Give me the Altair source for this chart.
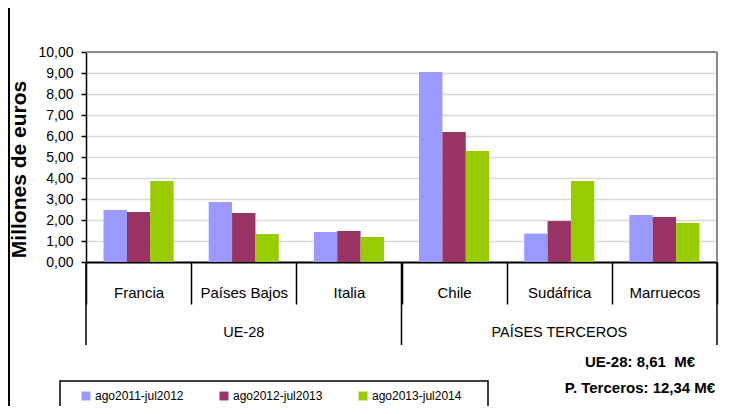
import altair as alt
import pandas as pd

countries = ["Francia", "Países Bajos", "Italia", "Chile", "Sudáfrica", "Marruecos"]
series = ["ago2011-jul2012", "ago2012-jul2013", "ago2013-jul2014"]
v2011 = [2.48, 2.86, 1.43, 9.05, 1.35, 2.24]
v2012 = [2.38, 2.33, 1.48, 6.19, 1.95, 2.14]
v2013 = [3.86, 1.33, 1.19, 5.29, 3.86, 1.86]
colors = ["#9999FF", "#993366", "#99CC00"]
groups = ["UE-28", "PAÍSES TERCEROS"]
group_mid = ["Países Bajos", "Sudáfrica"]
total_ue = "UE-28: 8,61\u00a0 M€"
total_pt = "P. Terceros: 12,34 M€"
y_ticks = [0, 1, 2, 3, 4, 5, 6, 7, 8, 9, 10]

SANS = "Liberation Sans, Arial, sans-serif"

rows = []
for s, vals in zip(series, [v2011, v2012, v2013]):
    for c, v in zip(countries, vals):
        rows.append({"country": c, "series": s, "value": v})
df = pd.DataFrame(rows)

W, H = 631, 210

xscale = alt.Scale(domain=countries, paddingInner=0, paddingOuter=0)

bars = alt.Chart(df).mark_bar().encode(
    x=alt.X("country:N", scale=xscale, sort=countries, title=None,
            axis=alt.Axis(tickBand="extent", tickSize=42, tickColor="black", tickWidth=1.5,
                          domainColor="black", domainWidth=2, labelAngle=0,
                          labelFont=SANS, labelFontSize=15, labelColor="black",
                          labelBaseline="middle", labelPadding=-12, grid=False)),
    xOffset=alt.XOffset("series:N", sort=series,
                        scale=alt.Scale(domain=series, paddingInner=0, paddingOuter=0.75)),
    y=alt.Y("value:Q", scale=alt.Scale(domain=[0, 10], nice=False),
            title="Millones de euros",
            axis=alt.Axis(values=y_ticks,
                          labelExpr="replace(format(datum.value, '.2f'), '.', ',')",
                          labelFont=SANS, labelFontSize=14, labelColor="black",
                          labelPadding=8, tickSize=5, tickColor="black", tickWidth=1.5,
                          domainColor="black", domainWidth=1.5,
                          gridColor="#d9d9d9", gridWidth=1.5,
                          titleFont=SANS, titleFontSize=21, titleFontWeight="bold",
                          titleColor="black", titlePadding=8, titleY=117)),
    color=alt.Color("series:N", sort=series,
                    scale=alt.Scale(domain=series, range=colors),
                    legend=alt.Legend(title=None, orient="none", legendX=-6, legendY=338,
                                      direction="horizontal", symbolType="square",
                                      symbolSize=80, symbolStrokeWidth=0, symbolOpacity=1,
                                      labelFont=SANS, labelFontSize=12, labelColor="black",
                                      labelOffset=3, columnPadding=34, padding=0)),
)

border_df = pd.DataFrame({"k": [0]})
top_border = alt.Chart(border_df).mark_rule(color="#8c8c8c", strokeWidth=2).encode(
    x=alt.value(0), x2=alt.value(W), y=alt.value(0))
right_border = alt.Chart(border_df).mark_rule(color="#8c8c8c", strokeWidth=2).encode(
    x=alt.value(W), y=alt.value(0), y2=alt.value(H))

sep_start = alt.Chart(pd.DataFrame({"country": ["Francia"]})).mark_rule(
    color="black", strokeWidth=1.5).encode(
    x=alt.X("country:N", scale=xscale, bandPosition=0),
    y=alt.value(H), y2=alt.value(H + 83))
sep_end = alt.Chart(pd.DataFrame({"country": ["Italia", "Marruecos"]})).mark_rule(
    color="black", strokeWidth=1.5).encode(
    x=alt.X("country:N", scale=xscale, bandPosition=1),
    y=alt.value(H), y2=alt.value(H + 83))

group_text = alt.Chart(pd.DataFrame({"country": group_mid, "label": groups})).mark_text(
    font=SANS, fontSize=14.5, color="black", baseline="middle").encode(
    x=alt.X("country:N", scale=xscale), y=alt.value(H + 71), text="label:N")

tot_ue = alt.Chart(pd.DataFrame({"label": [total_ue]})).mark_text(
    font=SANS, fontSize=15, fontWeight="bold", color="black", align="center",
    baseline="middle").encode(x=alt.value(554), y=alt.value(310), text="label:N")
tot_pt = alt.Chart(pd.DataFrame({"label": [total_pt]})).mark_text(
    font=SANS, fontSize=15, fontWeight="bold", color="black", align="center",
    baseline="middle").encode(x=alt.value(554), y=alt.value(336), text="label:N")

legend_box = alt.Chart(border_df).mark_rect(fill="white", fillOpacity=0, stroke="black",
                                            strokeWidth=1.5).encode(
    x=alt.value(-26), x2=alt.value(402), y=alt.value(329), y2=alt.value(372))

left_line = alt.Chart(border_df).mark_rule(color="black", strokeWidth=2).encode(
    x=alt.value(-77), y=alt.value(-44), y2=alt.value(360))

chart = alt.layer(
    legend_box, bars, top_border, right_border, sep_start, sep_end, group_text,
    tot_ue, tot_pt, left_line
).properties(
    width=W, height=H,
    autosize=alt.AutoSizeParams(type="none"),
    padding={"left": 78, "top": 44, "right": 9, "bottom": 144},
).configure_view(stroke=None).configure(background="white")

chart.save("out.html", embed_options={"renderer": "svg", "actions": False})
